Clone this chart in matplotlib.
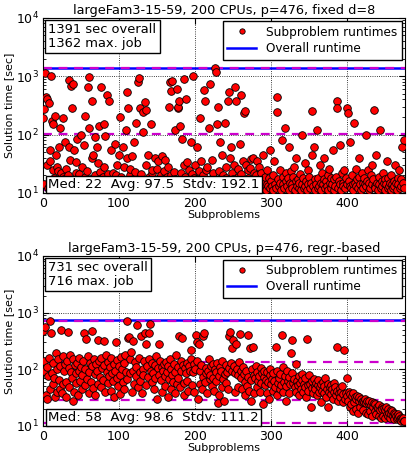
import numpy as np
import matplotlib
matplotlib.use('Agg')
import matplotlib.pyplot as plt

plt.rcParams['font.family'] = 'DejaVu Sans'
plt.rcParams['font.size'] = 9

# subproblem runtimes, fixed d=8 (index = subproblem)
fixed_runtimes = [
    190, 270, 14, 1150, 440, 400, 30, 12, 350, 55, 35, 1000, 170, 150, 25, 18, 210, 45, 13, 28,
    24, 60, 11, 130, 22, 16, 190, 19, 17, 75, 12, 26, 15, 20, 850, 60, 36, 690, 290, 14,
    720, 55, 11, 22, 34, 85, 18, 21, 13, 15, 100, 28, 16, 12, 65, 19, 210, 14, 24, 640,
    960, 130, 17, 11, 40, 380, 45, 14, 90, 20, 13, 62, 33, 15, 140, 23, 640, 12, 18, 19,
    150, 28, 95, 15, 470, 14, 21, 380, 16, 12, 55, 11, 22, 17, 13, 70, 20, 30, 13, 15,
    45, 11, 200, 19, 14, 60, 28, 12, 16, 120, 40, 530, 290, 14, 20, 26, 11, 42, 17, 15,
    75, 23, 12, 160, 14, 800, 940, 18, 280, 21, 13, 110, 240, 12, 360, 260, 30, 16, 45, 14,
    19, 13, 150, 22, 25, 11, 16, 40, 14, 12, 26, 35, 18, 14, 11, 20, 42, 13, 17, 24,
    15, 37, 12, 19, 28, 14, 300, 800, 20, 560, 820, 13, 23, 120, 17, 15, 600, 290, 300, 370,
    140, 13, 22, 85, 14, 30, 880, 19, 400, 12, 34, 16, 25, 11, 15, 75, 21, 1000, 14, 18,
    30, 12, 60, 17, 13, 24, 190, 15, 35, 11, 18, 20, 570, 370, 13, 25, 28, 14, 130, 720,
    16, 12, 36, 19, 22, 14, 1362, 1200, 11, 150, 300, 24, 17, 75, 13, 45, 15, 20, 12, 160,
    28, 18, 14, 380, 540, 13, 40, 60, 11, 22, 17, 30, 15, 660, 370, 12, 19, 26, 14, 70,
    21, 470, 13, 35, 230, 16, 250, 30, 11, 25, 18, 14, 27, 38, 13, 16, 40, 22, 12, 15,
    20, 35, 14, 11, 28, 17, 13, 22, 16, 45, 12, 15, 19, 11, 14, 25, 13, 18, 12, 55,
    16, 13, 20, 11, 35, 14, 12, 440, 240, 17, 13, 25, 15, 11, 80, 19, 14, 12, 130, 16,
    22, 13, 18, 11, 60, 15, 24, 14, 12, 19, 28, 11, 16, 40, 13, 17, 12, 15, 21, 11,
    14, 100, 18, 12, 33, 13, 16, 11, 25, 14, 19, 12, 15, 250, 45, 13, 60, 11, 17, 14,
    120, 12, 18, 13, 30, 15, 11, 22, 14, 40, 17, 12, 16, 13, 20, 11, 26, 15, 12, 18,
    14, 55, 11, 17, 13, 19, 370, 280, 12, 16, 65, 14, 11, 22, 15, 13, 25, 12, 18, 14,
    280, 230, 16, 13, 75, 12, 20, 14, 11, 160, 15, 26, 13, 17, 12, 40, 19, 14, 11, 22,
    15, 12, 18, 14, 100, 13, 16, 25, 11, 15, 12, 20, 14, 30, 17, 260, 13, 12, 45, 15,
    11, 19, 14, 120, 12, 16, 13, 22, 15, 11, 17, 14, 35, 12, 18, 13, 15, 11, 20, 14,
    12, 16, 13, 30, 15, 11, 18, 14, 25, 12, 17, 13, 60, 15, 12, 80,
]

# subproblem runtimes, regression-based
regr_runtimes = [
    480, 95, 140, 560, 35, 110, 30, 75, 160, 45, 700, 430, 85, 55, 130, 70, 32, 190, 100, 40,
    150, 65, 45, 115, 500, 38, 170, 55, 95, 125, 60, 33, 140, 450, 105, 48, 180, 90, 70, 28,
    150, 40, 120, 85, 58, 130, 35, 95, 160, 62, 110, 44, 78, 140, 430, 52, 100, 340, 68, 170,
    38, 88, 130, 60, 480, 115, 46, 150, 82, 35, 125, 95, 55, 330, 140, 72, 160, 48, 105, 65,
    320, 120, 40, 180, 90, 58, 135, 75, 110, 42, 155, 85, 62, 125, 32, 95, 300, 70, 145, 50,
    115, 80, 36, 165, 100, 60, 130, 45, 175, 90, 716, 68, 360, 370, 150, 85, 200, 40, 310, 95,
    55, 135, 75, 110, 600, 48, 160, 90, 62, 390, 38, 100, 80, 140, 430, 52, 280, 115, 72, 150,
    430, 620, 95, 130, 60, 85, 45, 120, 70, 170, 30, 105, 80, 275, 140, 65, 110, 40, 95, 125,
    75, 50, 135, 88, 32, 115, 68, 150, 45, 100, 80, 60, 125, 38, 90, 180, 55, 110, 70, 390,
    48, 95, 140, 350, 120, 58, 35, 105, 85, 130, 62, 42, 115, 95, 220, 150, 52, 88, 125, 40,
    100, 395, 140, 300, 30, 280, 55, 92, 120, 45, 380, 72, 430, 60, 85, 105, 38, 95, 150, 68,
    80, 115, 50, 125, 70, 42, 100, 62, 88, 130, 25, 75, 35, 110, 95, 48, 140, 68, 28, 82,
    120, 58, 90, 44, 105, 380, 450, 130, 240, 95, 330, 115, 40, 85, 280, 100, 48, 78, 135, 420,
    92, 70, 45, 110, 82, 35, 60, 95, 50, 400, 72, 42, 240, 65, 28, 100, 250, 80, 38, 70,
    115, 48, 90, 62, 75, 40, 105, 58, 85, 24, 72, 95, 52, 65, 38, 88, 60, 30, 78, 100,
    55, 68, 42, 85, 62, 48, 250, 95, 35, 58, 70, 45, 82, 52, 410, 110, 40, 60, 75, 28,
    50, 92, 62, 38, 72, 55, 190, 85, 330, 58, 68, 48, 125, 40, 62, 52, 75, 35, 58, 45,
    65, 82, 40, 55, 48, 70, 32, 340, 52, 42, 78, 55, 22, 46, 62, 38, 68, 50, 44, 58,
    35, 52, 65, 40, 48, 26, 56, 42, 60, 38, 50, 70, 33, 45, 55, 22, 40, 48, 36, 52,
    44, 30, 58, 40, 48, 35, 42, 250, 28, 38, 46, 32, 40, 50, 26, 36, 220, 30, 38, 34,
    70, 28, 40, 22, 36, 24, 34, 18, 38, 26, 32, 20, 30, 34, 17, 28, 32, 22, 30, 26,
    28, 19, 26, 30, 17, 25, 28, 16, 24, 27, 18, 23, 26, 15, 22, 25, 18, 24, 16, 22,
    21, 15, 23, 19, 14, 22, 20, 15, 21, 14, 19, 22, 16, 15, 20, 17, 14, 19, 16, 18,
    15, 17, 13, 16, 15, 13, 16, 14, 15, 13, 14, 12, 13, 14, 12, 12,
]

titles = ['largeFam3-15-59, 200 CPUs, p=476, fixed d=8',
          'largeFam3-15-59, 200 CPUs, p=476, regr.-based']
overall = [1391, 731]
max_job = [1362, 716]
stats = [(22, 97.5, 192.1), (58, 98.6, 111.2)]
# dashed reference levels
ref_levels = [[1362, 102, 12.6, 11.0], [716, 136, 29, 11.3]]

fig = plt.figure(figsize=(4.08, 4.57), dpi=100)
axes = [fig.add_axes([0.105, 0.578, 0.888, 0.383]),
        fig.add_axes([0.105, 0.068, 0.888, 0.372])]

for ax, data, title, ov, mj, st, refs in zip(axes, [fixed_runtimes, regr_runtimes],
                                              titles, overall, max_job, stats, ref_levels):
    x = np.arange(len(data))
    ax.set_yscale('log')
    ax.plot(x, data, 'o', ms=5.5, mfc='red', mec='black', mew=0.6,
            label='Subproblem runtimes', zorder=3)
    ax.axhline(ov, color='blue', lw=1.8, label='Overall runtime', zorder=2)
    for r in refs:
        ax.axhline(r, color='#cc00cc', lw=1.6, ls=(0, (4, 3)), zorder=2.5)

    ax.set_xlim(0, 476)
    ax.set_ylim(10, 1e4)
    ax.set_title(title, fontsize=9.3, pad=3)
    ax.set_xlabel('Subproblems', fontsize=8, labelpad=0)
    ax.set_ylabel('Solution time [sec]', fontsize=8, labelpad=1)
    ax.set_xticks([0, 100, 200, 300, 400])
    ax.grid(True, which='major', color='black', ls=':', lw=0.6)
    ax.tick_params(which='both', direction='in', top=True, right=True, labelsize=9, pad=3)
    ax.tick_params(which='major', length=4)
    ax.tick_params(which='minor', length=2)

    ax.text(0.015, 0.97, '%d sec overall\n%d max. job' % (ov, mj), transform=ax.transAxes,
            ha='left', va='top', fontsize=9.4, linespacing=1.05, zorder=5,
            bbox=dict(boxstyle='square,pad=0.25', fc='white', ec='black', lw=1))
    ax.text(0.015, 0.012, 'Med: %d  Avg: %.1f  Stdv: %.1f' % st, transform=ax.transAxes,
            ha='left', va='bottom', fontsize=9.6, zorder=5,
            bbox=dict(boxstyle='square,pad=0.15', fc='white', ec='black', lw=1))

    leg = ax.legend(loc='upper right', numpoints=1, fontsize=8.7, fancybox=False,
                    framealpha=1, edgecolor='black', borderaxespad=0.3, markerscale=0.7,
                    handlelength=2.4, borderpad=0.35, labelspacing=0.3)
    leg.get_frame().set_linewidth(1)
    leg.set_zorder(6)

fig.savefig('out.png', dpi=100, facecolor='white')
